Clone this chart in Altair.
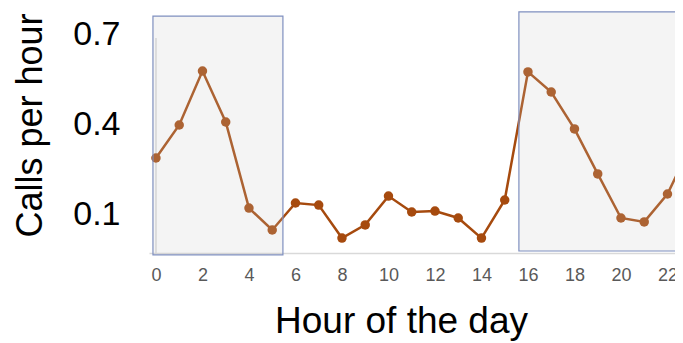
import altair as alt
import pandas as pd

hours = list(range(24))
calls = [0.29, 0.40, 0.58, 0.41, 0.123, 0.05, 0.14, 0.133, 0.023, 0.067, 0.163, 0.11,
         0.113, 0.09, 0.023, 0.15, 0.577, 0.51, 0.387, 0.237, 0.09, 0.077, 0.17, 0.33]

x_ticks = [0, 2, 4, 6, 8, 10, 12, 14, 16, 18, 20, 22]
y_ticks = [0.1, 0.4, 0.7]

# highlighted windows (hour start/end, value bottom/top)
win_x = [-0.13, 15.61]
win_x2 = [5.46, 25.0]
win_y = [-0.033, -0.02]
win_y2 = [0.763, 0.777]

FONT = "Liberation Sans"
LINE = "#A64A0E"

df = pd.DataFrame({"hour": hours, "calls": calls})
win = pd.DataFrame({"x": win_x, "x2": win_x2, "y": win_y, "y2": win_y2})

xs = alt.Scale(domain=[-0.3, 22.324], nice=False, zero=False)
ys = alt.Scale(domain=[-0.0267, 0.7833], nice=False, zero=False)

xaxis = alt.Axis(values=x_ticks, title="Hour of the day", ticks=False, tickSize=0,
                 grid=False, domain=True, domainColor="#d9d9d9", domainWidth=1.5,
                 labelFont=FONT, labelFontSize=18, labelColor="#595959", labelPadding=13,
                 titleFont=FONT, titleFontSize=37, titleFontWeight="normal", titleColor="#000000",
                 titleAlign="center", titleBaseline="alphabetic", titleX=252, titleY=79)
yaxis = alt.Axis(values=y_ticks, title="Calls per hour", ticks=False, tickSize=0,
                 grid=False, domain=False, format=".1f",
                 labelFont=FONT, labelFontSize=34, labelColor="#000000", labelPadding=29,
                 titleFont=FONT, titleFontSize=36, titleFontWeight="normal", titleColor="#000000",
                 titleAlign="center", titleBaseline="alphabetic", titleAngle=-90,
                 titleX=-108, titleY=115)

base = alt.Chart(df)

axes_layer = base.mark_point(opacity=0).encode(
    x=alt.X("hour:Q", scale=xs, axis=xaxis),
    y=alt.Y("calls:Q", scale=ys, axis=yaxis),
)

yrule = alt.Chart(pd.DataFrame({"x": [0], "y": [-0.0267], "y2": [0.69]})).mark_rule(
    color="#d9d9d9", strokeWidth=1.5
).encode(x=alt.X("x:Q", scale=xs), y=alt.Y("y:Q", scale=ys), y2="y2:Q")

line = base.mark_line(color=LINE, strokeWidth=2.5, clip=True).encode(
    x=alt.X("hour:Q", scale=xs), y=alt.Y("calls:Q", scale=ys)
)
pts = base.mark_circle(color=LINE, size=90, opacity=1, clip=True).encode(
    x=alt.X("hour:Q", scale=xs), y=alt.Y("calls:Q", scale=ys)
)

rects = alt.Chart(win).mark_rect(
    fill="#c8c8c8", fillOpacity=0.2, stroke="#7f8fbf", strokeWidth=1.2, clip=False
).encode(
    x=alt.X("x:Q", scale=xs), x2="x2:Q", y=alt.Y("y:Q", scale=ys), y2="y2:Q"
)

chart = alt.layer(axes_layer, yrule, line, pts, rects).properties(
    width=526, height=243,
    padding={"left": 141, "top": 2, "right": 0, "bottom": 90},
    autosize=alt.AutoSizeParams(type="none"),
).configure_view(stroke=None, clip=False)

chart.save("out.html", embed_options={"renderer": "svg", "actions": False})
